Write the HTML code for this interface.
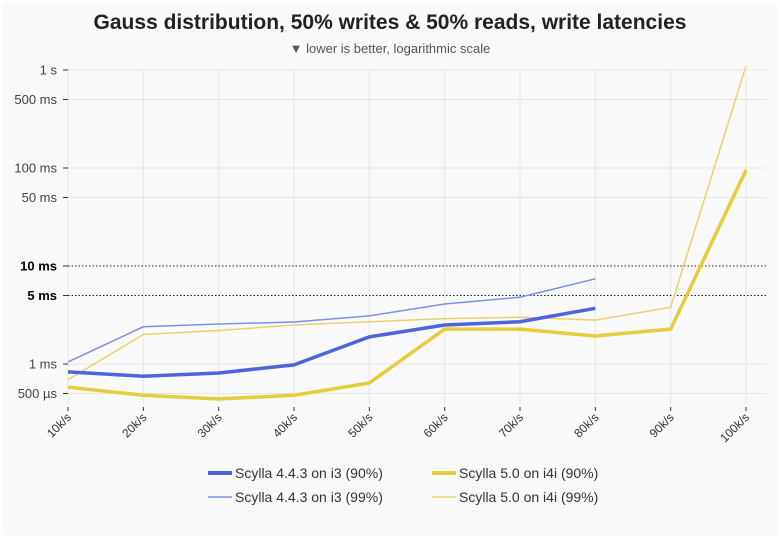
<!DOCTYPE html>
<html><head><meta charset="utf-8"><style>
html,body{margin:0;padding:0;background:#fff;}
body{width:780px;height:538px;overflow:hidden;font-family:"Liberation Sans",sans-serif;}
#card{position:absolute;left:3px;top:3px;width:774px;height:532px;background:#f9f9f9;}
</style></head><body>
<div id="card"></div>
<svg id="chart" width="780" height="538" style="position:absolute;left:0;top:0">
<text x="390" y="29" text-anchor="middle" font-size="21" font-weight="bold" fill="#222">Gauss distribution, 50% writes &amp; 50% reads, write latencies</text>
<text x="390" y="53" text-anchor="middle" font-size="13" fill="#555">▼ lower is better, logarithmic scale</text>
<g id="grid"></g><g id="series"></g><g id="legend"></g>
</svg>
<script>
const categories=["10k/s","20k/s","30k/s","40k/s","50k/s","60k/s","70k/s","80k/s","90k/s","100k/s"];
const yTickValues=[1000,500,100,50,10,5,1,0.5];
const yTickLabels=["1 s","500 ms","100 ms","50 ms","10 ms","5 ms","1 ms","500 µs"];
const s443p90=[0.83,0.75,0.81,0.98,1.89,2.5,2.7,3.7];
const s443p99=[1.05,2.4,2.56,2.68,3.1,4.1,4.8,7.4];
const s50p90=[0.58,0.48,0.44,0.48,0.64,2.27,2.27,1.93,2.27,95];
const s50p99=[0.69,2.0,2.2,2.5,2.7,2.9,3.0,2.8,3.8,1100];
const NS="http://www.w3.org/2000/svg";
function xs(i){return 68+i*(746-68)/9;}
function ys(v){return 364-98*Math.log10(v);}
function mk(tag,attrs,parent){const e=document.createElementNS(NS,tag);for(const k in attrs)e.setAttribute(k,attrs[k]);parent.appendChild(e);return e;}
const grid=document.getElementById('grid');
categories.forEach((c,i)=>{
  const l=mk('line',{x1:xs(i),x2:xs(i),y1:70,y2:404,stroke:'#e6e6e6','stroke-width':1},grid);
  
  
  mk('line',{x1:xs(i),x2:xs(i),y1:407,y2:411,stroke:'#333','stroke-width':1},grid);
  const t=mk('text',{x:xs(i)+4,y:418,'font-size':12,fill:'#333','text-anchor':'end',transform:`rotate(-45 ${xs(i)+4} 418)`},grid);
  t.textContent=c;
  
  
});
yTickValues.forEach((v,i)=>{
  const y=ys(v);const bold=(v===10||v===5);
  const l=mk('line',{x1:68,x2:766,y1:y,y2:y,stroke:bold?'#222':'#e6e6e6','stroke-width':1,'stroke-dasharray':bold?'1.5,2':'none'},grid);
  
  
  mk('line',{x1:63,x2:68,y1:y,y2:y,stroke:'#333'},grid);
  const t=mk('text',{x:57,y:y+4.5,'font-size':13,fill:bold?'#000':'#444','font-weight':bold?'bold':'normal','text-anchor':'end'},grid);
  t.textContent=yTickLabels[i];
  
  
});
const ser=document.getElementById('series');
mk('clipPath',{id:'clip'},ser).appendChild(Object.assign(document.createElementNS(NS,'rect'),{}));
ser.querySelector('clipPath rect').setAttribute('x',60);ser.querySelector('clipPath rect').setAttribute('y',66);
ser.querySelector('clipPath rect').setAttribute('width',720);ser.querySelector('clipPath rect').setAttribute('height',350);
function line(data,color,w,name,op){
  const p=mk('polyline',{points:data.map((v,i)=>xs(i)+','+ys(v)).join(' '),fill:'none',stroke:color,'stroke-width':w,'stroke-opacity':op,'stroke-linejoin':'round','clip-path':'url(#clip)'},ser);
  
  
}
line(s50p99,'#e8d36a',1.5,'series-scylla50-p99',1);
line(s443p99,'#7d8de8',1.5,'series-scylla443-p99',1);
line(s50p90,'#e6cc3c',3.5,'series-scylla50-p90',1);
line(s443p90,'#4f63dc',3.5,'series-scylla443-p90',1);
const lg=document.getElementById('legend');
const items=[[208,473,'#4f63dc',4,'Scylla 4.4.3 on i3 (90%)'],[432,473,'#e6cc3c',4,'Scylla 5.0 on i4i (90%)'],[208,497,'#7d8de8',1.5,'Scylla 4.4.3 on i3 (99%)'],[432,497,'#e8d36a',1.5,'Scylla 5.0 on i4i (99%)']];
items.forEach(it=>{
  const g=mk('g',{},lg);
  
  
  mk('line',{x1:it[0],x2:it[0]+24,y1:it[1],y2:it[1],stroke:it[2],'stroke-width':it[3]},g);
  const t=mk('text',{x:it[0]+27,y:it[1]+5,'font-size':14,fill:'#333'},g);
  t.textContent=it[4];
});
</script>
</body></html>
